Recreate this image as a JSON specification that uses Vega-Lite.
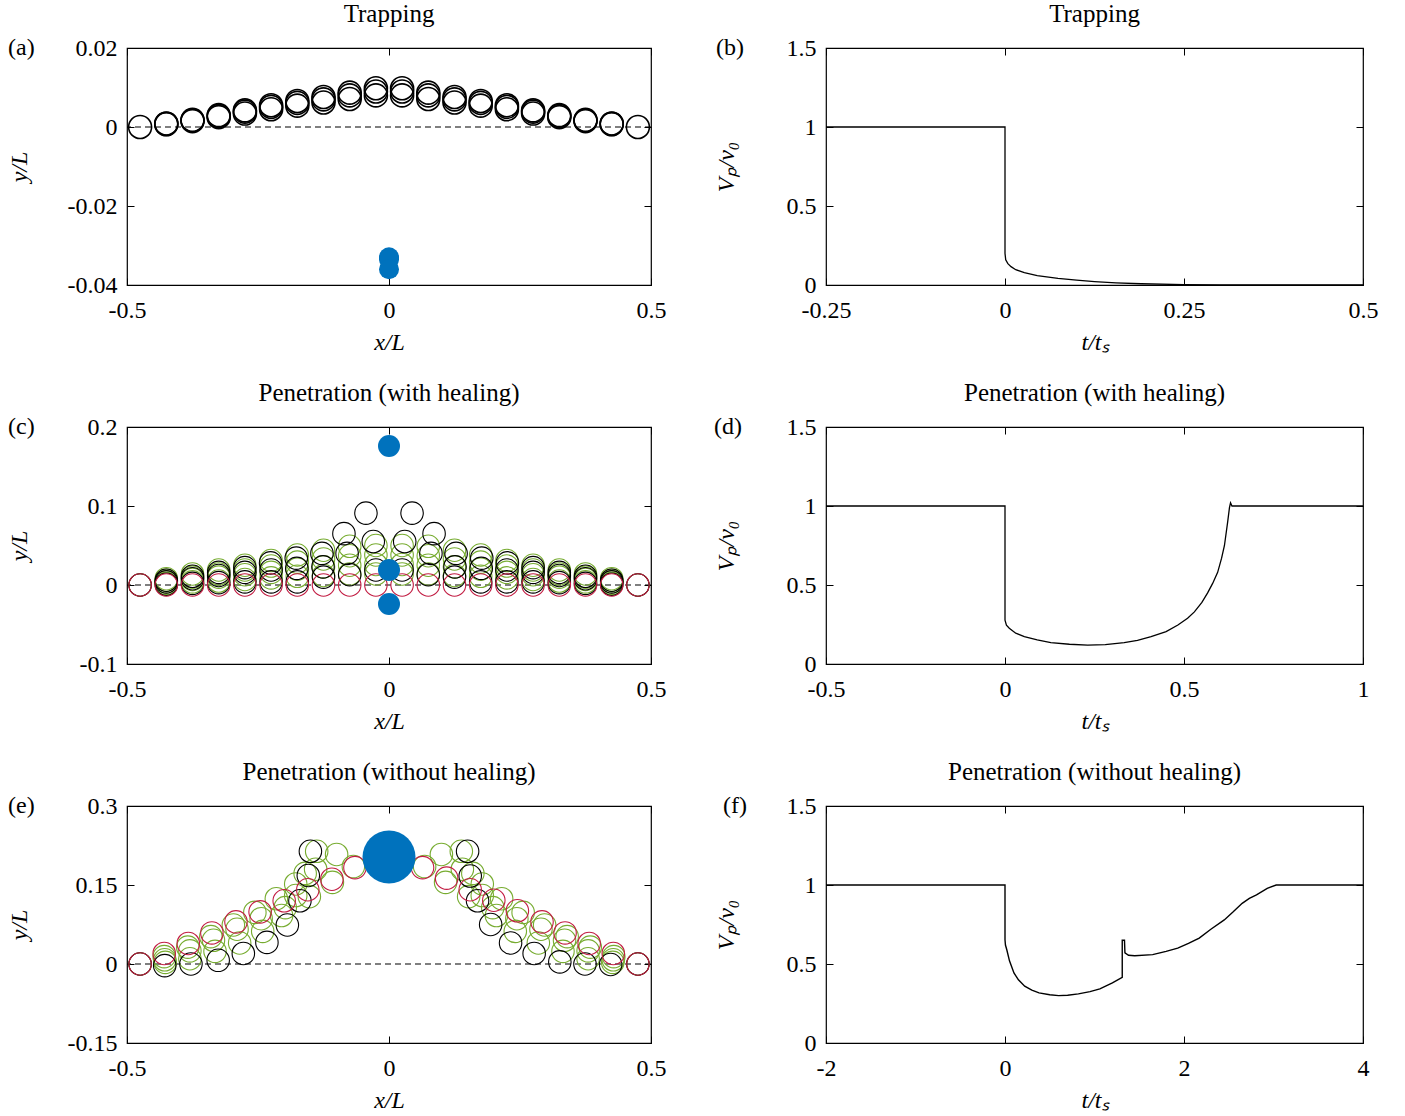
{
  "$schema": "https://vega.github.io/schema/vega-lite/v6.json",
  "background": "white",
  "padding": {"left": 6, "top": 1, "right": 5, "bottom": 2},
  "columns": 2,
  "spacing": {"row": 25, "column": 46},
  "concat": [
    {
      "title": {"text": "Trapping"},
      "width": 524, "height": 237,
      "layer": [
        {"data": {"values": [{"y0": 0}]}, "mark": {"type": "rule", "color": "black", "strokeDash": [6, 4], "strokeWidth": 1.1}, "encoding": {"y": {"field": "y0", "type": "quantitative", "axis": null}}},
        {"data": {"values": [
          {"x":-0.475,"y":0},{"x":-0.425,"y":0.0009},{"x":-0.375,"y":0.0018},{"x":-0.325,"y":0.003},{"x":-0.275,"y":0.0042},{"x":-0.225,"y":0.0055},{"x":-0.175,"y":0.0066},{"x":-0.125,"y":0.0076},{"x":-0.075,"y":0.0087},{"x":-0.025,"y":0.0098},
          {"x":0.025,"y":0.0098},{"x":0.075,"y":0.0087},{"x":0.125,"y":0.0076},{"x":0.175,"y":0.0066},{"x":0.225,"y":0.0055},{"x":0.275,"y":0.0042},{"x":0.325,"y":0.003},{"x":0.375,"y":0.0018},{"x":0.425,"y":0.0009},{"x":0.475,"y":0},
          {"x":-0.425,"y":0.0008},{"x":-0.375,"y":0.0017},{"x":-0.325,"y":0.0028},{"x":-0.275,"y":0.0039},{"x":-0.225,"y":0.0051},{"x":-0.175,"y":0.0061},{"x":-0.125,"y":0.007},{"x":-0.075,"y":0.008},{"x":-0.025,"y":0.009},
          {"x":0.025,"y":0.009},{"x":0.075,"y":0.008},{"x":0.125,"y":0.007},{"x":0.175,"y":0.0061},{"x":0.225,"y":0.0051},{"x":0.275,"y":0.0039},{"x":0.325,"y":0.0028},{"x":0.375,"y":0.0017},{"x":0.425,"y":0.0008},
          {"x":-0.425,"y":0.0007},{"x":-0.375,"y":0.0015},{"x":-0.325,"y":0.0025},{"x":-0.275,"y":0.0034},{"x":-0.225,"y":0.0045},{"x":-0.175,"y":0.0054},{"x":-0.125,"y":0.0062},{"x":-0.075,"y":0.0071},{"x":-0.025,"y":0.008},
          {"x":0.025,"y":0.008},{"x":0.075,"y":0.0071},{"x":0.125,"y":0.0062},{"x":0.175,"y":0.0054},{"x":0.225,"y":0.0045},{"x":0.275,"y":0.0034},{"x":0.325,"y":0.0025},{"x":0.375,"y":0.0015},{"x":0.425,"y":0.0007}
        ]},
         "mark": {"type": "point", "shape": "circle", "filled": false, "color": "black", "size": 529, "strokeWidth": 1.6, "opacity": 1},
         "encoding": {
           "x": {"field": "x", "type": "quantitative", "scale": {"domain": [-0.5, 0.5], "nice": false, "zero": false}, "axis": {"values": [-0.5, 0, 0.5], "labelExpr": "toString(datum.value)", "title": "x/L", "titlePadding": 8}},
           "y": {"field": "y", "type": "quantitative", "scale": {"domain": [-0.04, 0.02], "nice": false, "zero": false}, "axis": {"values": [-0.04, -0.02, 0, 0.02], "labelExpr": "toString(datum.value)", "title": "y/L", "titlePadding": 36}}
         }},
        {"data": {"values": [{"x":0,"y":-0.033},{"x":0,"y":-0.0335},{"x":0,"y":-0.036}]},
         "mark": {"type": "point", "shape": "circle", "filled": true, "color": "#0072bd", "size": 400, "opacity": 1},
         "encoding": {"x": {"field": "x", "type": "quantitative", "axis": null}, "y": {"field": "y", "type": "quantitative", "axis": null}}},
        {"data": {"values": [{"lab": "(a)"}]},
         "mark": {"type": "text", "align": "left", "baseline": "middle", "dx": -119, "fontSize": 24, "font": "Liberation Serif"},
         "encoding": {
           "x": {"datum": -0.5, "type": "quantitative", "axis": {"orient": "top", "values": [-0.5, 0, 0.5], "labels": false, "title": null}},
           "y": {"datum": 0.02, "type": "quantitative", "axis": {"orient": "right", "values": [-0.04, -0.02, 0, 0.02], "labels": false, "title": null}},
           "text": {"field": "lab"}
         }}
      ],
      "resolve": {"axis": {"x": "independent", "y": "independent"}}
    },
    {
      "title": {"text": "Trapping"},
      "width": 537, "height": 237,
      "layer": [
        {"data": {"values": [
          {"t":-0.25,"v":1,"i":1},{"t":0,"v":1,"i":2},{"t":0,"v":0.2,"i":3},{"t":0.001,"v":0.16,"i":4},{"t":0.004,"v":0.135,"i":5},{"t":0.0084,"v":0.116,"i":6},{"t":0.015,"v":0.097,"i":7},{"t":0.027,"v":0.078,"i":8},{"t":0.045,"v":0.06,"i":9},{"t":0.074,"v":0.042,"i":10},{"t":0.1,"v":0.031,"i":11},{"t":0.125,"v":0.022,"i":12},{"t":0.155,"v":0.014,"i":13},{"t":0.19,"v":0.008,"i":14},{"t":0.25,"v":0.003,"i":15},{"t":0.3,"v":0.001,"i":16},{"t":0.4,"v":0,"i":17},{"t":0.5,"v":0,"i":18}
        ]},
         "mark": {"type": "line", "color": "black", "strokeWidth": 1.3},
         "encoding": {
           "x": {"field": "t", "type": "quantitative", "scale": {"domain": [-0.25, 0.5], "nice": false, "zero": false}, "axis": {"values": [-0.25, 0, 0.25, 0.5], "labelExpr": "toString(datum.value)", "title": "t/tₛ", "titlePadding": 8}},
           "y": {"field": "v", "type": "quantitative", "scale": {"domain": [0, 1.5], "nice": false, "zero": false}, "axis": {"values": [0, 0.5, 1, 1.5], "labelExpr": "toString(datum.value)", "title": "Vₚ/v₀", "titlePadding": 48}},
           "order": {"field": "i"}
         }},
        {"data": {"values": [{"lab": "(b)"}]},
         "mark": {"type": "text", "align": "left", "baseline": "middle", "dx": -110, "fontSize": 24, "font": "Liberation Serif"},
         "encoding": {
           "x": {"datum": -0.25, "type": "quantitative", "axis": {"orient": "top", "values": [-0.25, 0, 0.25, 0.5], "labels": false, "title": null}},
           "y": {"datum": 1.5, "type": "quantitative", "axis": {"orient": "right", "values": [0, 0.5, 1, 1.5], "labels": false, "title": null}},
           "text": {"field": "lab"}
         }}
      ],
      "resolve": {"axis": {"x": "independent", "y": "independent"}}
    },
    {
      "title": {"text": "Penetration (with healing)"},
      "width": 524, "height": 237,
      "layer": [
        {"data": {"values": [{"y0": 0}]}, "mark": {"type": "rule", "color": "black", "strokeDash": [6, 4], "strokeWidth": 1.1}, "encoding": {"y": {"field": "y0", "type": "quantitative", "axis": null}}},
        {"data": {"values": [
          {"x":-0.475,"y":0,"c":"g"},{"x":-0.425,"y":0.002,"c":"g"},{"x":-0.375,"y":0.004,"c":"g"},{"x":-0.325,"y":0.005,"c":"g"},{"x":-0.275,"y":0.007,"c":"g"},{"x":-0.225,"y":0.009,"c":"g"},{"x":-0.175,"y":0.011,"c":"g"},{"x":-0.125,"y":0.012,"c":"g"},{"x":-0.075,"y":0.014,"c":"g"},{"x":-0.025,"y":0.014,"c":"g"},
          {"x":0.025,"y":0.014,"c":"g"},{"x":0.075,"y":0.014,"c":"g"},{"x":0.125,"y":0.012,"c":"g"},{"x":0.175,"y":0.011,"c":"g"},{"x":0.225,"y":0.009,"c":"g"},{"x":0.275,"y":0.007,"c":"g"},{"x":0.325,"y":0.005,"c":"g"},{"x":0.375,"y":0.004,"c":"g"},{"x":0.425,"y":0.002,"c":"g"},{"x":0.475,"y":0,"c":"g"},
          {"x":-0.425,"y":0.004,"c":"g"},{"x":-0.375,"y":0.007,"c":"g"},{"x":-0.325,"y":0.01,"c":"g"},{"x":-0.275,"y":0.013,"c":"g"},{"x":-0.225,"y":0.016,"c":"g"},{"x":-0.175,"y":0.02,"c":"g"},{"x":-0.125,"y":0.023,"c":"g"},{"x":-0.075,"y":0.025,"c":"g"},{"x":-0.025,"y":0.026,"c":"g"},
          {"x":0.025,"y":0.026,"c":"g"},{"x":0.075,"y":0.025,"c":"g"},{"x":0.125,"y":0.023,"c":"g"},{"x":0.175,"y":0.02,"c":"g"},{"x":0.225,"y":0.016,"c":"g"},{"x":0.275,"y":0.013,"c":"g"},{"x":0.325,"y":0.01,"c":"g"},{"x":0.375,"y":0.007,"c":"g"},{"x":0.425,"y":0.004,"c":"g"},
          {"x":-0.425,"y":0.006,"c":"g"},{"x":-0.375,"y":0.01,"c":"g"},{"x":-0.325,"y":0.014,"c":"g"},{"x":-0.275,"y":0.019,"c":"g"},{"x":-0.225,"y":0.024,"c":"g"},{"x":-0.175,"y":0.029,"c":"g"},{"x":-0.125,"y":0.033,"c":"g"},{"x":-0.075,"y":0.037,"c":"g"},{"x":-0.025,"y":0.038,"c":"g"},
          {"x":0.025,"y":0.038,"c":"g"},{"x":0.075,"y":0.037,"c":"g"},{"x":0.125,"y":0.033,"c":"g"},{"x":0.175,"y":0.029,"c":"g"},{"x":0.225,"y":0.024,"c":"g"},{"x":0.275,"y":0.019,"c":"g"},{"x":0.325,"y":0.014,"c":"g"},{"x":0.375,"y":0.01,"c":"g"},{"x":0.425,"y":0.006,"c":"g"},
          {"x":-0.425,"y":0.008,"c":"g"},{"x":-0.375,"y":0.014,"c":"g"},{"x":-0.325,"y":0.019,"c":"g"},{"x":-0.275,"y":0.025,"c":"g"},{"x":-0.225,"y":0.031,"c":"g"},{"x":-0.175,"y":0.038,"c":"g"},{"x":-0.125,"y":0.044,"c":"g"},{"x":-0.075,"y":0.049,"c":"g"},{"x":-0.025,"y":0.05,"c":"g"},
          {"x":0.025,"y":0.05,"c":"g"},{"x":0.075,"y":0.049,"c":"g"},{"x":0.125,"y":0.044,"c":"g"},{"x":0.175,"y":0.038,"c":"g"},{"x":0.225,"y":0.031,"c":"g"},{"x":0.275,"y":0.025,"c":"g"},{"x":0.325,"y":0.019,"c":"g"},{"x":0.375,"y":0.014,"c":"g"},{"x":0.425,"y":0.008,"c":"g"},
          {"x":-0.475,"y":0,"c":"k"},{"x":-0.425,"y":0.006,"c":"k"},{"x":-0.375,"y":0.011,"c":"k"},{"x":-0.325,"y":0.016,"c":"k"},{"x":-0.275,"y":0.022,"c":"k"},{"x":-0.226,"y":0.028,"c":"k"},{"x":-0.177,"y":0.034,"c":"k"},{"x":-0.128,"y":0.04,"c":"k"},{"x":-0.086,"y":0.065,"c":"k"},{"x":-0.044,"y":0.091,"c":"k"},
          {"x":0.044,"y":0.091,"c":"k"},{"x":0.086,"y":0.065,"c":"k"},{"x":0.128,"y":0.04,"c":"k"},{"x":0.177,"y":0.034,"c":"k"},{"x":0.226,"y":0.028,"c":"k"},{"x":0.275,"y":0.022,"c":"k"},{"x":0.325,"y":0.016,"c":"k"},{"x":0.375,"y":0.011,"c":"k"},{"x":0.425,"y":0.006,"c":"k"},{"x":0.475,"y":0,"c":"k"},
          {"x":-0.425,"y":0.004,"c":"k"},{"x":-0.375,"y":0.008,"c":"k"},{"x":-0.325,"y":0.012,"c":"k"},{"x":-0.275,"y":0.016,"c":"k"},{"x":-0.225,"y":0.019,"c":"k"},{"x":-0.176,"y":0.021,"c":"k"},{"x":-0.126,"y":0.023,"c":"k"},{"x":-0.08,"y":0.04,"c":"k"},{"x":-0.03,"y":0.055,"c":"k"},
          {"x":0.03,"y":0.055,"c":"k"},{"x":0.08,"y":0.04,"c":"k"},{"x":0.126,"y":0.023,"c":"k"},{"x":0.176,"y":0.021,"c":"k"},{"x":0.225,"y":0.019,"c":"k"},{"x":0.275,"y":0.016,"c":"k"},{"x":0.325,"y":0.012,"c":"k"},{"x":0.375,"y":0.008,"c":"k"},{"x":0.425,"y":0.004,"c":"k"},
          {"x":-0.425,"y":0.001,"c":"k"},{"x":-0.375,"y":0.002,"c":"k"},{"x":-0.325,"y":0.003,"c":"k"},{"x":-0.275,"y":0.004,"c":"k"},{"x":-0.225,"y":0.004,"c":"k"},{"x":-0.175,"y":0.004,"c":"k"},{"x":-0.125,"y":0.01,"c":"k"},{"x":-0.075,"y":0.013,"c":"k"},{"x":-0.025,"y":0.019,"c":"k"},
          {"x":0.025,"y":0.019,"c":"k"},{"x":0.075,"y":0.013,"c":"k"},{"x":0.125,"y":0.01,"c":"k"},{"x":0.175,"y":0.004,"c":"k"},{"x":0.225,"y":0.004,"c":"k"},{"x":0.275,"y":0.004,"c":"k"},{"x":0.325,"y":0.003,"c":"k"},{"x":0.375,"y":0.002,"c":"k"},{"x":0.425,"y":0.001,"c":"k"},
          {"x":-0.475,"y":0,"c":"r"},{"x":-0.425,"y":0,"c":"r"},{"x":-0.375,"y":0,"c":"r"},{"x":-0.325,"y":0,"c":"r"},{"x":-0.275,"y":0,"c":"r"},{"x":-0.225,"y":0,"c":"r"},{"x":-0.175,"y":0,"c":"r"},{"x":-0.125,"y":0,"c":"r"},{"x":-0.075,"y":0,"c":"r"},{"x":-0.025,"y":0,"c":"r"},
          {"x":0.025,"y":0,"c":"r"},{"x":0.075,"y":0,"c":"r"},{"x":0.125,"y":0,"c":"r"},{"x":0.175,"y":0,"c":"r"},{"x":0.225,"y":0,"c":"r"},{"x":0.275,"y":0,"c":"r"},{"x":0.325,"y":0,"c":"r"},{"x":0.375,"y":0,"c":"r"},{"x":0.425,"y":0,"c":"r"},{"x":0.475,"y":0,"c":"r"}
        ]},
         "mark": {"type": "point", "shape": "circle", "filled": false, "size": 506, "strokeWidth": 1.1, "opacity": 1},
         "encoding": {
           "x": {"field": "x", "type": "quantitative", "scale": {"domain": [-0.5, 0.5], "nice": false, "zero": false}, "axis": {"values": [-0.5, 0, 0.5], "labelExpr": "toString(datum.value)", "title": "x/L", "titlePadding": 8}},
           "y": {"field": "y", "type": "quantitative", "scale": {"domain": [-0.1, 0.2], "nice": false, "zero": false}, "axis": {"values": [-0.1, 0, 0.1, 0.2], "labelExpr": "toString(datum.value)", "title": "y/L", "titlePadding": 48}},
           "color": {"field": "c", "type": "nominal", "scale": {"domain": ["g", "k", "r"], "range": ["#77ac30", "#000000", "#c21d43"]}, "legend": null}
         }},
        {"data": {"values": [{"x":0,"y":0.176},{"x":0,"y":0.019},{"x":0,"y":-0.024}]},
         "mark": {"type": "point", "shape": "circle", "filled": true, "color": "#0072bd", "size": 484, "opacity": 1},
         "encoding": {"x": {"field": "x", "type": "quantitative", "axis": null}, "y": {"field": "y", "type": "quantitative", "axis": null}}},
        {"data": {"values": [{"lab": "(c)"}]},
         "mark": {"type": "text", "align": "left", "baseline": "middle", "dx": -119, "fontSize": 24, "font": "Liberation Serif"},
         "encoding": {
           "x": {"datum": -0.5, "type": "quantitative", "axis": {"orient": "top", "values": [-0.5, 0, 0.5], "labels": false, "title": null}},
           "y": {"datum": 0.2, "type": "quantitative", "axis": {"orient": "right", "values": [-0.1, 0, 0.1, 0.2], "labels": false, "title": null}},
           "text": {"field": "lab"}
         }}
      ],
      "resolve": {"axis": {"x": "independent", "y": "independent"}}
    },
    {
      "title": {"text": "Penetration (with healing)"},
      "width": 537, "height": 237,
      "layer": [
        {"data": {"values": [
          {"t":-0.5,"v":1,"i":1},{"t":0,"v":1,"i":2},{"t":0,"v":0.278,"i":3},{"t":0.004,"v":0.245,"i":4},{"t":0.012,"v":0.226,"i":5},{"t":0.03,"v":0.195,"i":6},{"t":0.054,"v":0.173,"i":7},{"t":0.09,"v":0.152,"i":8},{"t":0.128,"v":0.135,"i":9},{"t":0.18,"v":0.125,"i":10},{"t":0.231,"v":0.12,"i":11},{"t":0.28,"v":0.123,"i":12},{"t":0.333,"v":0.135,"i":13},{"t":0.37,"v":0.15,"i":14},{"t":0.408,"v":0.173,"i":15},{"t":0.45,"v":0.205,"i":16},{"t":0.483,"v":0.247,"i":17},{"t":0.51,"v":0.29,"i":18},{"t":0.529,"v":0.33,"i":19},{"t":0.55,"v":0.39,"i":20},{"t":0.566,"v":0.45,"i":21},{"t":0.58,"v":0.51,"i":22},{"t":0.594,"v":0.58,"i":23},{"t":0.605,"v":0.67,"i":24},{"t":0.613,"v":0.75,"i":25},{"t":0.622,"v":0.9,"i":26},{"t":0.627,"v":0.99,"i":27},{"t":0.63,"v":1.02,"i":28},{"t":0.634,"v":1,"i":29},{"t":1,"v":1,"i":30}
        ]},
         "mark": {"type": "line", "color": "black", "strokeWidth": 1.3},
         "encoding": {
           "x": {"field": "t", "type": "quantitative", "scale": {"domain": [-0.5, 1], "nice": false, "zero": false}, "axis": {"values": [-0.5, 0, 0.5, 1], "labelExpr": "toString(datum.value)", "title": "t/tₛ", "titlePadding": 8}},
           "y": {"field": "v", "type": "quantitative", "scale": {"domain": [0, 1.5], "nice": false, "zero": false}, "axis": {"values": [0, 0.5, 1, 1.5], "labelExpr": "toString(datum.value)", "title": "Vₚ/v₀", "titlePadding": 48}},
           "order": {"field": "i"}
         }},
        {"data": {"values": [{"lab": "(d)"}]},
         "mark": {"type": "text", "align": "left", "baseline": "middle", "dx": -112, "fontSize": 24, "font": "Liberation Serif"},
         "encoding": {
           "x": {"datum": -0.5, "type": "quantitative", "axis": {"orient": "top", "values": [-0.5, 0, 0.5, 1], "labels": false, "title": null}},
           "y": {"datum": 1.5, "type": "quantitative", "axis": {"orient": "right", "values": [0, 0.5, 1, 1.5], "labels": false, "title": null}},
           "text": {"field": "lab"}
         }}
      ],
      "resolve": {"axis": {"x": "independent", "y": "independent"}}
    },
    {
      "title": {"text": "Penetration (without healing)"},
      "width": 524, "height": 237,
      "layer": [
        {"data": {"values": [{"y0": 0}]}, "mark": {"type": "rule", "color": "black", "strokeDash": [6, 4], "strokeWidth": 1.1}, "encoding": {"y": {"field": "y0", "type": "quantitative", "axis": null}}},
        {"data": {"values": [
          {"x":-0.475,"y":0,"c":"g"},{"x":-0.428,"y":0.008,"c":"g"},{"x":-0.38,"y":0.025,"c":"g"},{"x":-0.335,"y":0.045,"c":"g"},{"x":-0.29,"y":0.066,"c":"g"},{"x":-0.244,"y":0.086,"c":"g"},{"x":-0.198,"y":0.107,"c":"g"},{"x":-0.152,"y":0.128,"c":"g"},{"x":-0.108,"y":0.155,"c":"g"},{"x":-0.068,"y":0.185,"c":"g"},
          {"x":0.068,"y":0.185,"c":"g"},{"x":0.108,"y":0.155,"c":"g"},{"x":0.152,"y":0.128,"c":"g"},{"x":0.198,"y":0.107,"c":"g"},{"x":0.244,"y":0.086,"c":"g"},{"x":0.29,"y":0.066,"c":"g"},{"x":0.335,"y":0.045,"c":"g"},{"x":0.38,"y":0.025,"c":"g"},{"x":0.428,"y":0.008,"c":"g"},{"x":0.475,"y":0,"c":"g"},
          {"x":-0.427,"y":0.003,"c":"g"},{"x":-0.38,"y":0.01,"c":"g"},{"x":-0.332,"y":0.024,"c":"g"},{"x":-0.285,"y":0.04,"c":"g"},{"x":-0.241,"y":0.062,"c":"g"},{"x":-0.205,"y":0.092,"c":"g"},{"x":-0.178,"y":0.13,"c":"g"},{"x":-0.16,"y":0.172,"c":"g"},{"x":-0.138,"y":0.214,"c":"g"},
          {"x":0.138,"y":0.214,"c":"g"},{"x":0.16,"y":0.172,"c":"g"},{"x":0.178,"y":0.13,"c":"g"},{"x":0.205,"y":0.092,"c":"g"},{"x":0.241,"y":0.062,"c":"g"},{"x":0.285,"y":0.04,"c":"g"},{"x":0.332,"y":0.024,"c":"g"},{"x":0.38,"y":0.01,"c":"g"},{"x":0.427,"y":0.003,"c":"g"},
          {"x":-0.429,"y":0.014,"c":"g"},{"x":-0.384,"y":0.032,"c":"g"},{"x":-0.34,"y":0.052,"c":"g"},{"x":-0.297,"y":0.074,"c":"g"},{"x":-0.256,"y":0.098,"c":"g"},{"x":-0.215,"y":0.124,"c":"g"},{"x":-0.178,"y":0.152,"c":"g"},{"x":-0.14,"y":0.18,"c":"g"},{"x":-0.1,"y":0.208,"c":"g"},
          {"x":0.1,"y":0.208,"c":"g"},{"x":0.14,"y":0.18,"c":"g"},{"x":0.178,"y":0.152,"c":"g"},{"x":0.215,"y":0.124,"c":"g"},{"x":0.256,"y":0.098,"c":"g"},{"x":0.297,"y":0.074,"c":"g"},{"x":0.34,"y":0.052,"c":"g"},{"x":0.384,"y":0.032,"c":"g"},{"x":0.429,"y":0.014,"c":"g"},
          {"x":-0.475,"y":0,"c":"k"},{"x":-0.428,"y":-0.003,"c":"k"},{"x":-0.378,"y":0,"c":"k"},{"x":-0.326,"y":0.007,"c":"k"},{"x":-0.278,"y":0.02,"c":"k"},{"x":-0.233,"y":0.041,"c":"k"},{"x":-0.194,"y":0.074,"c":"k"},{"x":-0.17,"y":0.12,"c":"k"},{"x":-0.154,"y":0.168,"c":"k"},{"x":-0.15,"y":0.214,"c":"k"},
          {"x":0.15,"y":0.214,"c":"k"},{"x":0.155,"y":0.167,"c":"k"},{"x":0.169,"y":0.12,"c":"k"},{"x":0.194,"y":0.075,"c":"k"},{"x":0.232,"y":0.04,"c":"k"},{"x":0.277,"y":0.02,"c":"k"},{"x":0.326,"y":0.004,"c":"k"},{"x":0.374,"y":0,"c":"k"},{"x":0.423,"y":-0.001,"c":"k"},{"x":0.475,"y":0,"c":"k"},
          {"x":-0.475,"y":0,"c":"r"},{"x":-0.429,"y":0.02,"c":"r"},{"x":-0.383,"y":0.039,"c":"r"},{"x":-0.338,"y":0.059,"c":"r"},{"x":-0.292,"y":0.08,"c":"r"},{"x":-0.246,"y":0.099,"c":"r"},{"x":-0.2,"y":0.12,"c":"r"},{"x":-0.155,"y":0.141,"c":"r"},{"x":-0.109,"y":0.161,"c":"r"},{"x":-0.065,"y":0.183,"c":"r"},
          {"x":0.064,"y":0.183,"c":"r"},{"x":0.11,"y":0.163,"c":"r"},{"x":0.155,"y":0.141,"c":"r"},{"x":0.2,"y":0.121,"c":"r"},{"x":0.245,"y":0.101,"c":"r"},{"x":0.292,"y":0.08,"c":"r"},{"x":0.336,"y":0.059,"c":"r"},{"x":0.382,"y":0.039,"c":"r"},{"x":0.428,"y":0.02,"c":"r"},{"x":0.475,"y":0,"c":"r"}
        ]},
         "mark": {"type": "point", "shape": "circle", "filled": false, "size": 506, "strokeWidth": 1.1, "opacity": 1},
         "encoding": {
           "x": {"field": "x", "type": "quantitative", "scale": {"domain": [-0.5, 0.5], "nice": false, "zero": false}, "axis": {"values": [-0.5, 0, 0.5], "labelExpr": "toString(datum.value)", "title": "x/L", "titlePadding": 8}},
           "y": {"field": "y", "type": "quantitative", "scale": {"domain": [-0.15, 0.3], "nice": false, "zero": false}, "axis": {"values": [-0.15, 0, 0.15, 0.3], "labelExpr": "toString(datum.value)", "title": "y/L", "titlePadding": 36}},
           "color": {"field": "c", "type": "nominal", "scale": {"domain": ["g", "k", "r"], "range": ["#77ac30", "#000000", "#c21d43"]}, "legend": null}
         }},
        {"data": {"values": [{"x":0,"y":0.203}]},
         "mark": {"type": "point", "shape": "circle", "filled": true, "color": "#0072bd", "size": 2809, "opacity": 1},
         "encoding": {"x": {"field": "x", "type": "quantitative", "axis": null}, "y": {"field": "y", "type": "quantitative", "axis": null}}},
        {"data": {"values": [{"lab": "(e)"}]},
         "mark": {"type": "text", "align": "left", "baseline": "middle", "dx": -119, "fontSize": 24, "font": "Liberation Serif"},
         "encoding": {
           "x": {"datum": -0.5, "type": "quantitative", "axis": {"orient": "top", "values": [-0.5, 0, 0.5], "labels": false, "title": null}},
           "y": {"datum": 0.3, "type": "quantitative", "axis": {"orient": "right", "values": [-0.15, 0, 0.15, 0.3], "labels": false, "title": null}},
           "text": {"field": "lab"}
         }}
      ],
      "resolve": {"axis": {"x": "independent", "y": "independent"}}
    },
    {
      "title": {"text": "Penetration (without healing)"},
      "width": 537, "height": 237,
      "layer": [
        {"data": {"values": [
          {"t":-2,"v":1,"i":1},{"t":0,"v":1,"i":2},{"t":0,"v":0.653,"i":3},{"t":0.005,"v":0.62,"i":4},{"t":0.02,"v":0.59,"i":5},{"t":0.05,"v":0.52,"i":6},{"t":0.1,"v":0.443,"i":7},{"t":0.15,"v":0.4,"i":8},{"t":0.22,"v":0.36,"i":9},{"t":0.3,"v":0.335,"i":10},{"t":0.38,"v":0.317,"i":11},{"t":0.5,"v":0.305,"i":12},{"t":0.6,"v":0.3,"i":13},{"t":0.7,"v":0.302,"i":14},{"t":0.82,"v":0.311,"i":15},{"t":0.95,"v":0.325,"i":16},{"t":1.06,"v":0.342,"i":17},{"t":1.2,"v":0.38,"i":18},{"t":1.31,"v":0.416,"i":19},{"t":1.31,"v":0.65,"i":20},{"t":1.335,"v":0.65,"i":21},{"t":1.34,"v":0.57,"i":22},{"t":1.38,"v":0.555,"i":23},{"t":1.45,"v":0.552,"i":24},{"t":1.65,"v":0.559,"i":25},{"t":1.8,"v":0.58,"i":26},{"t":1.93,"v":0.6,"i":27},{"t":2.05,"v":0.63,"i":28},{"t":2.17,"v":0.664,"i":29},{"t":2.3,"v":0.72,"i":30},{"t":2.45,"v":0.779,"i":31},{"t":2.55,"v":0.83,"i":32},{"t":2.65,"v":0.884,"i":33},{"t":2.73,"v":0.915,"i":34},{"t":2.81,"v":0.937,"i":35},{"t":2.93,"v":0.979,"i":36},{"t":3.03,"v":1,"i":37},{"t":4,"v":1,"i":38}
        ]},
         "mark": {"type": "line", "color": "black", "strokeWidth": 1.4},
         "encoding": {
           "x": {"field": "t", "type": "quantitative", "scale": {"domain": [-2, 4], "nice": false, "zero": false}, "axis": {"values": [-2, 0, 2, 4], "labelExpr": "toString(datum.value)", "title": "t/tₛ", "titlePadding": 8}},
           "y": {"field": "v", "type": "quantitative", "scale": {"domain": [0, 1.5], "nice": false, "zero": false}, "axis": {"values": [0, 0.5, 1, 1.5], "labelExpr": "toString(datum.value)", "title": "Vₚ/v₀", "titlePadding": 48}},
           "order": {"field": "i"}
         }},
        {"data": {"values": [{"lab": "(f)"}]},
         "mark": {"type": "text", "align": "left", "baseline": "middle", "dx": -103, "fontSize": 24, "font": "Liberation Serif"},
         "encoding": {
           "x": {"datum": -2, "type": "quantitative", "axis": {"orient": "top", "values": [-2, 0, 2, 4], "labels": false, "title": null}},
           "y": {"datum": 1.5, "type": "quantitative", "axis": {"orient": "right", "values": [0, 0.5, 1, 1.5], "labels": false, "title": null}},
           "text": {"field": "lab"}
         }}
      ],
      "resolve": {"axis": {"x": "independent", "y": "independent"}}
    }
  ],
  "config": {
    "font": "Liberation Serif",
    "view": {"stroke": "black", "strokeWidth": 1.2},
    "axis": {"grid": false, "domain": false, "labelFont": "Liberation Serif", "labelFontSize": 24, "labelColor": "black", "titleFont": "Liberation Serif", "titleFontSize": 24, "titleFontWeight": "normal", "titleFontStyle": "italic", "titleColor": "black", "tickColor": "black", "tickWidth": 1, "tickSize": -7, "labelPadding": 17, "labelFlush": false, "labelOverlap": false},
    "axisX": {"labelPadding": 20},
    "axisY": {"labelPadding": 17},
    "title": {"font": "Liberation Serif", "fontSize": 25, "fontWeight": "normal", "color": "black", "offset": 9},
    "text": {"font": "Liberation Serif", "fontSize": 24, "color": "black"}
  }
}
